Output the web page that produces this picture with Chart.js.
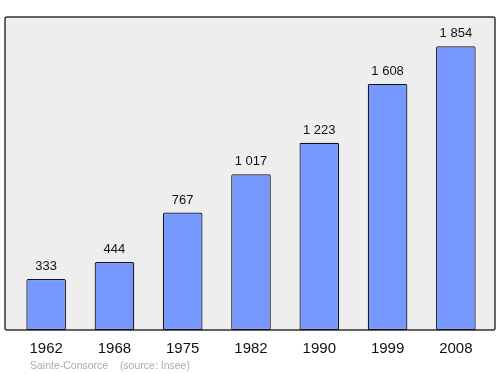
<!DOCTYPE html>
<html>
<head>
<meta charset="utf-8">
<script src="https://cdn.jsdelivr.net/npm/chart.js@4"></script>
<style>
  body { margin: 0; background: #ffffff; }
  #wrap { width: 500px; height: 374px; }
</style>
</head>
<body>
<div id="wrap"><canvas id="plot1" width="500" height="374"></canvas></div>
<script>
// donnees
const annees = ['1962', '1968', '1975', '1982', '1990', '1999', '2008'];
const population = [333, 444, 767, 1017, 1223, 1608, 1854];
const etiquettes = ['333', '444', '767', '1 017', '1 223', '1 608', '1 854'];
const sourceTexte = 'Sainte-Consorce    (source: Insee)';

// fond gris + cadre
let cadrePlugin = {
  id: 'cadre',
  beforeDraw: (chart) => {
    const ctx = chart.ctx;
    const a = chart.chartArea;
    ctx.save();
    ctx.fillStyle = '#eeeeee';
    ctx.strokeStyle = '#333333';
    ctx.lineWidth = 1.5;
    ctx.beginPath();
    ctx.roundRect(5, a.top, 490, a.bottom - a.top, 2);
    ctx.fill();
    ctx.stroke();
    ctx.restore();
  },
  afterDraw: (chart) => {
    const ctx = chart.ctx;
    const meta = chart.getDatasetMeta(0);
    ctx.save();
    ctx.fillStyle = '#111111';
    ctx.font = '13px "Liberation Sans", Arial, sans-serif';
    ctx.textAlign = 'center';
    ctx.textBaseline = 'alphabetic';
    meta.data.forEach((bar, i) => {
      ctx.fillText(etiquettes[i], bar.x, bar.y - 9);
    });
    // source
    ctx.fillStyle = '#aaaaaa';
    ctx.font = '10.5px "Liberation Sans", Arial, sans-serif';
    ctx.textAlign = 'left';
    ctx.fillText(sourceTexte, 30, 369);
    ctx.restore();
  }
};

let config = {
  type: 'bar',
  data: {
    labels: annees,
    datasets: [{
      data: population,
      backgroundColor: '#7799ff',
      borderColor: '#111111',
      borderWidth: 1.2,
      borderSkipped: false,
      borderRadius: 1.5,
      barPercentage: 0.58,
      categoryPercentage: 1.0
    }]
  },
  options: {
    responsive: false,
    animation: false,
    layout: { padding: { top: 17, left: 12, right: 10, bottom: 6 } },
    plugins: { legend: { display: false }, tooltip: { enabled: false } },
    scales: {
      y: { display: false, min: 0, max: 2045 },
      x: {
        grid: { display: false, drawTicks: false },
        border: { display: false },
        ticks: {
          color: '#111111',
          padding: 10,
          font: { family: '"Liberation Sans", Arial, sans-serif', size: 15 }
        }
      }
    }
  },
  plugins: [cadrePlugin]
};

let chart1 = new Chart(document.getElementById('plot1'), config);
</script>
</body>
</html>
